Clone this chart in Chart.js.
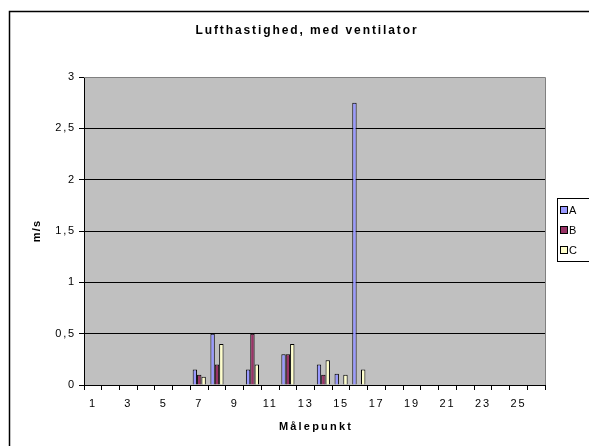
<!DOCTYPE html>
<html>
<head>
<meta charset="utf-8">
<script src="https://cdn.jsdelivr.net/npm/chart.js@4/dist/chart.umd.min.js"></script>
<style>
html,body{margin:0;padding:0;background:#fff;}
#wrap{width:589px;height:446px;position:relative;}
</style>
</head>
<body>
<div id="wrap"><canvas id="c" width="589" height="446"></canvas></div>
<script>
const chartTitle = "Lufthastighed, med ventilator";
const xTitle = "Målepunkt";
const yTitle = "m/s";
const categories = ["1","2","3","4","5","6","7","8","9","10","11","12","13","14","15","16","17","18","19","20","21","22","23","24","25","26"];
const seriesNames = ["A","B","C"];
const seriesA = [null,null,null,null,null,null,0.15,0.5,null,0.15,null,0.3,null,0.2,0.11,2.75,null,null,null,null,null,null,null,null,null,null];
const seriesB = [null,null,null,null,null,null,0.1,0.2,null,0.5,null,0.3,null,0.1,null,null,null,null,null,null,null,null,null,null,null,null];
const seriesC = [null,null,null,null,null,null,0.08,0.4,null,0.2,null,0.4,null,0.24,0.1,0.15,null,null,null,null,null,null,null,null,null,null];
const colors = ["#9999FF","#993366","#FFFFCC"];
const yMax = 3, yStep = 0.5;

const FONT = "'Liberation Sans', Arial, sans-serif";
const TICK_SPACING = '1.8px';

const decor = {
  id: 'decor',
  beforeUpdate(chart) { chart.ctx.letterSpacing = TICK_SPACING; },
  beforeLayout(chart) { chart.ctx.letterSpacing = TICK_SPACING; },
  beforeDraw(chart) {
    const {ctx, chartArea: a} = chart;
    ctx.letterSpacing = TICK_SPACING;
    ctx.save();
    ctx.fillStyle = '#fff';
    ctx.fillRect(0,0,chart.width,chart.height);
    ctx.strokeStyle = '#000';
    ctx.lineWidth = 1.5;
    ctx.strokeRect(9.5, 11.5, 700, 600);
    ctx.fillStyle = '#C0C0C0';
    ctx.fillRect(a.left, a.top, a.right - a.left, a.bottom - a.top);
    ctx.restore();
  },
  afterDraw(chart) {
    const {ctx, chartArea: a} = chart;
    ctx.save();
    ctx.strokeStyle = '#808080';
    ctx.lineWidth = 1;
    ctx.beginPath();
    ctx.moveTo(a.left, a.top + 0.5);
    ctx.lineTo(a.right + 0.5, a.top + 0.5);
    ctx.lineTo(a.right + 0.5, a.bottom);
    ctx.stroke();
    ctx.fillStyle = '#000';
    ctx.textAlign = 'center';
    ctx.textBaseline = 'middle';
    ctx.font = "bold 12px " + FONT;
    ctx.letterSpacing = '1.9px';
    ctx.fillText(chartTitle, 307, 31);
    ctx.font = "bold 11px " + FONT;
    ctx.letterSpacing = '2.2px';
    ctx.fillText(xTitle, 316, 427);
    ctx.save();
    ctx.translate(37, 231);
    ctx.rotate(-Math.PI/2);
    ctx.letterSpacing = '1.2px';
    ctx.fillText(yTitle, 0, 0);
    ctx.restore();
    // legend
    ctx.lineWidth = 1;
    ctx.strokeStyle = '#000';
    ctx.strokeRect(557.5, 198.5, 60, 63);
    ctx.font = "11px " + FONT;
    ctx.letterSpacing = '1.6px';
    ctx.textAlign = 'left';
    const ys = [210, 230, 250];
    seriesNames.forEach((n, i) => {
      ctx.fillStyle = colors[i];
      ctx.fillRect(561, ys[i]-3, 6, 6);
      ctx.strokeRect(560.5, ys[i]-3.5, 7, 7);
      ctx.fillStyle = '#000';
      ctx.fillText(n, 569, ys[i]+0.5);
    });
    ctx.restore();
  }
};

new Chart(document.getElementById('c'), {
  type: 'bar',
  data: {
    labels: categories,
    datasets: [
      {label: seriesNames[0], data: seriesA, backgroundColor: colors[0], borderColor: '#000', borderWidth: 1, borderSkipped: 'bottom'},
      {label: seriesNames[1], data: seriesB, backgroundColor: colors[1], borderColor: '#000', borderWidth: 1, borderSkipped: 'bottom'},
      {label: seriesNames[2], data: seriesC, backgroundColor: colors[2], borderColor: '#000', borderWidth: 1, borderSkipped: 'bottom'}
    ]
  },
  options: {
    responsive: false,
    animation: false,
    events: [],
    layout: {padding: {left: 10, top: 77, right: 44, bottom: 0}},
    datasets: {bar: {categoryPercentage: 0.74, barPercentage: 1}},
    plugins: {legend: {display: false}, title: {display: false}, tooltip: {enabled: false}},
    scales: {
      x: {
        grid: {display: true, offset: true, drawOnChartArea: false, drawTicks: true, tickLength: 5, color: '#000'},
        border: {display: true, color: '#000'},
        ticks: {
          autoSkip: false, maxRotation: 0, padding: 7, color: '#000',
          font: {family: FONT, size: 11},
          callback: function(v, i) { return i % 2 === 0 ? categories[i] : ''; }
        },
        afterFit(s) { s.height = 61; }
      },
      y: {
        min: 0, max: yMax,
        grid: {color: '#000', drawTicks: true, tickLength: 5},
        border: {display: true, color: '#000'},
        ticks: {
          stepSize: yStep, padding: 3, color: '#000',
          font: {family: FONT, size: 11},
          callback: v => String(v).replace('.', ',')
        },
        afterFit(s) { s.width = 74; }
      }
    }
  },
  plugins: [decor]
});
</script>
</body>
</html>
